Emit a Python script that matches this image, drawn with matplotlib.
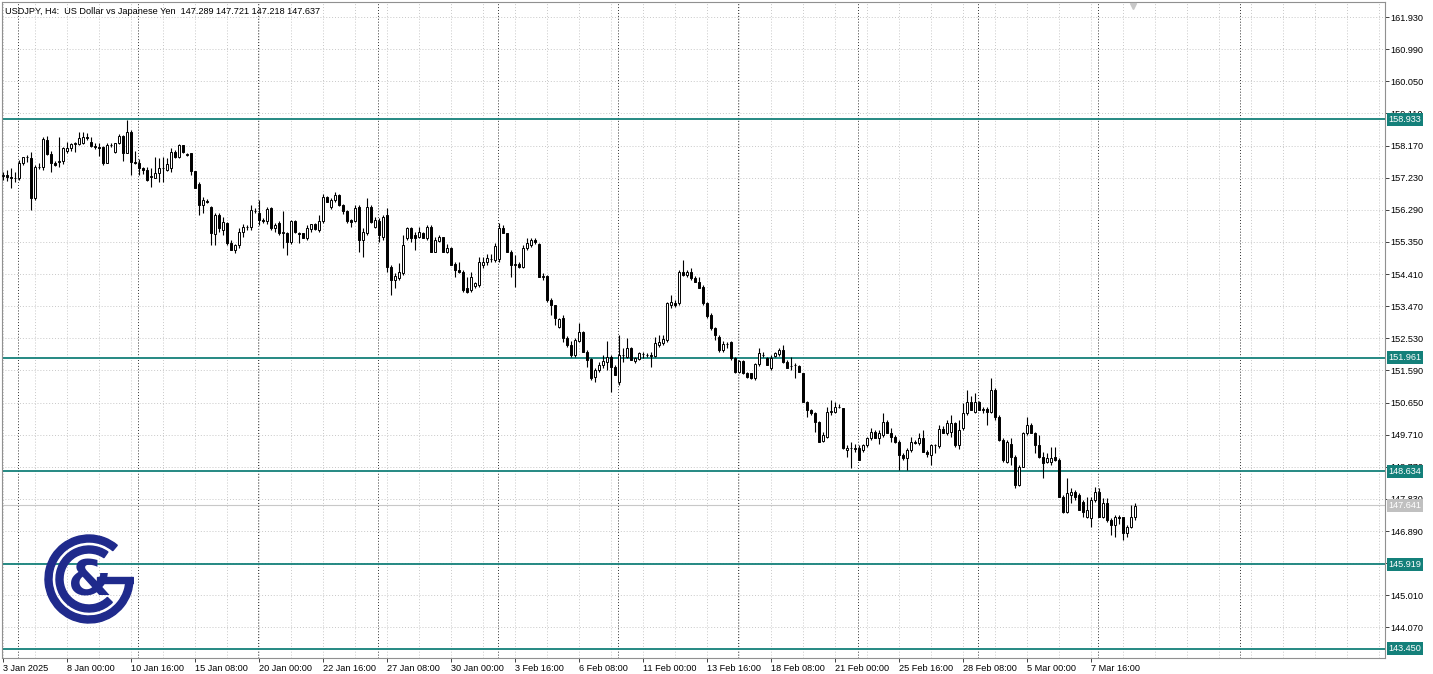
import numpy as np
import matplotlib
matplotlib.use("Agg")
import matplotlib.pyplot as plt
from matplotlib.patches import Wedge, Rectangle
import matplotlib.transforms as mtransforms

# USDJPY H4 bars (3 Jan 08:00 .. 11 Mar 12:00)
opens = [157.28, 157.30, 157.25, 157.23, 157.22, 157.65, 157.82, 157.80, 156.62, 157.55,
         157.53, 158.33, 157.92, 157.65, 157.70, 157.73, 158.02, 158.10, 158.22, 158.22,
         158.25, 158.43, 158.28, 158.15, 158.12, 158.13, 157.67, 158.18, 157.99, 158.23,
         158.45, 157.96, 158.58, 157.70, 157.67, 157.50, 157.45, 157.24, 157.23, 157.36,
         157.50, 157.45, 157.50, 157.99, 157.82, 158.19, 157.89, 157.94, 157.41, 157.05,
         156.43, 156.55, 156.38, 155.57, 156.14, 155.70, 155.90, 155.31, 155.12, 155.26,
         155.65, 155.78, 155.79, 156.26, 156.19, 156.00, 155.97, 156.33, 155.75, 155.90,
         155.60, 155.60, 155.36, 155.95, 155.60, 155.60, 155.46, 155.73, 155.86, 155.70,
         155.96, 156.67, 156.38, 156.58, 156.72, 156.43, 156.24, 155.98, 155.97, 156.38,
         155.40, 155.60, 156.38, 155.80, 155.96, 155.50, 156.14, 154.63, 154.24, 154.30,
         154.43, 155.45, 155.75, 155.55, 155.50, 155.60, 155.46, 155.80, 155.06, 155.38,
         155.48, 155.04, 155.16, 154.70, 154.53, 154.48, 153.99, 153.94, 154.07, 154.09,
         154.68, 154.77, 154.85, 154.83, 154.85, 155.75, 155.60, 155.06, 154.68, 154.70,
         154.62, 155.16, 155.26, 155.40, 155.30, 154.33, 154.35, 153.65, 153.50, 152.87,
         153.11, 152.53, 152.33, 152.04, 152.45, 152.72, 152.14, 151.92, 151.41, 151.60,
         151.75, 151.85, 151.99, 151.70, 151.26, 152.04, 151.99, 152.24, 151.87, 151.92,
         152.06, 152.04, 152.04, 152.00, 152.33, 152.38, 152.48, 153.50, 153.55, 153.55,
         154.48, 154.38, 154.46, 154.30, 154.19, 154.04, 153.55, 153.21, 152.82, 152.58,
         152.19, 152.35, 152.43, 151.94, 151.55, 151.87, 151.50, 151.50, 151.36, 151.77,
         152.04, 151.94, 151.65, 152.02, 152.06, 152.19, 151.85, 151.73, 151.75, 151.73,
         151.50, 150.68, 150.43, 150.33, 150.09, 149.53, 149.65, 150.38, 150.38, 150.53,
         150.48, 149.26, 149.31, 149.32, 149.32, 149.26, 149.41, 149.60, 149.80, 149.60,
         149.70, 150.09, 149.75, 149.65, 149.50, 149.11, 149.04, 149.26, 149.50, 149.46,
         149.60, 149.21, 149.11, 149.41, 149.38, 149.89, 149.75, 149.80, 150.04, 149.40,
         149.90, 150.33, 150.68, 150.38, 150.68, 150.43, 150.45, 150.38, 151.02, 150.24,
         149.55, 148.92, 149.45, 149.07, 148.24, 148.77, 149.75, 150.00, 149.75, 149.41,
         149.07, 148.92, 148.90, 149.05, 148.97, 147.90, 147.46, 147.95, 148.02, 147.95,
         147.75, 147.31, 147.26, 147.80, 148.04, 147.31, 147.70, 147.21, 147.07, 147.31,
         147.31, 146.83, 147.02, 147.289]
highs = [157.40, 157.45, 157.50, 157.40, 157.75, 157.84, 157.88, 157.99, 157.60, 157.65,
         158.43, 158.45, 158.00, 157.72, 158.43, 158.14, 158.28, 158.25, 158.27, 158.57,
         158.57, 158.53, 158.43, 158.23, 158.24, 158.16, 158.23, 158.23, 158.24, 158.50,
         158.47, 158.92, 158.62, 158.02, 157.77, 157.55, 157.55, 157.50, 157.84, 157.80,
         157.84, 157.80, 158.10, 158.05, 158.21, 158.19, 157.96, 157.96, 157.43, 157.10,
         156.67, 156.60, 156.40, 156.19, 156.19, 156.09, 155.92, 155.40, 155.30, 155.75,
         155.87, 155.84, 156.43, 156.33, 156.57, 156.05, 156.38, 156.38, 155.90, 155.96,
         156.24, 155.65, 156.00, 156.00, 155.65, 155.62, 155.85, 155.88, 155.90, 156.14,
         156.74, 156.70, 156.62, 156.80, 156.74, 156.45, 156.28, 156.03, 156.43, 156.43,
         155.75, 156.63, 156.43, 156.09, 156.04, 156.14, 156.33, 154.68, 154.43, 154.72,
         155.55, 155.80, 155.80, 155.65, 155.80, 155.65, 155.85, 155.85, 155.50, 155.55,
         155.50, 155.30, 155.20, 154.77, 154.77, 154.53, 154.33, 154.48, 154.19, 154.92,
         154.92, 155.01, 155.01, 155.31, 155.89, 155.85, 155.62, 155.11, 154.97, 154.77,
         155.26, 155.45, 155.45, 155.45, 155.32, 154.43, 154.38, 153.70, 153.50, 153.11,
         153.21, 152.60, 152.45, 152.53, 152.97, 152.75, 152.18, 151.95, 151.65, 151.85,
         152.04, 152.45, 152.04, 151.75, 152.63, 152.24, 152.53, 152.28, 151.99, 152.14,
         152.14, 152.09, 152.14, 152.58, 152.63, 152.63, 153.60, 153.80, 153.65, 154.53,
         154.82, 154.53, 154.58, 154.36, 154.33, 154.09, 153.58, 153.26, 152.87, 152.63,
         152.45, 152.43, 152.45, 151.99, 151.90, 151.90, 151.55, 151.52, 151.82, 152.24,
         152.14, 151.99, 152.04, 152.14, 152.24, 152.33, 151.90, 151.99, 151.80, 151.75,
         151.52, 150.70, 150.45, 150.38, 150.12, 149.80, 150.53, 150.72, 150.68, 150.60,
         150.50, 149.41, 149.50, 149.45, 149.40, 149.45, 149.65, 149.90, 149.85, 149.85,
         150.33, 150.14, 149.90, 149.70, 149.55, 149.16, 149.31, 149.65, 149.55, 149.75,
         149.85, 149.26, 149.45, 149.45, 149.99, 149.95, 150.14, 150.29, 150.09, 150.14,
         150.63, 151.02, 150.85, 150.92, 150.70, 150.53, 150.53, 151.36, 151.07, 150.29,
         149.60, 149.55, 149.60, 149.11, 148.82, 149.80, 150.24, 150.04, 149.80, 149.70,
         149.21, 149.16, 149.36, 149.36, 149.02, 147.95, 148.43, 148.14, 148.09, 148.00,
         147.80, 147.90, 147.90, 148.19, 148.14, 147.85, 147.85, 147.26, 147.36, 147.36,
         147.31, 147.07, 147.65, 147.721]
lows = [157.16, 157.12, 156.92, 157.11, 157.16, 157.60, 157.70, 156.28, 156.58, 157.48,
        157.45, 157.90, 157.40, 157.58, 157.55, 157.64, 157.95, 158.00, 157.99, 158.18,
        158.20, 158.33, 158.14, 158.06, 157.85, 157.60, 157.65, 158.13, 157.94, 158.20,
        157.72, 157.94, 157.31, 157.62, 157.31, 157.35, 157.12, 156.97, 157.21, 157.11,
        157.11, 157.41, 157.40, 157.81, 157.80, 157.94, 157.85, 157.31, 156.92, 156.14,
        156.20, 156.50, 155.26, 155.26, 155.65, 155.55, 155.25, 155.10, 155.02, 155.16,
        155.50, 155.70, 155.70, 156.20, 155.85, 155.90, 155.88, 155.70, 155.65, 155.55,
        155.16, 154.97, 155.30, 155.60, 155.31, 155.45, 155.40, 155.65, 155.70, 155.65,
        155.90, 156.52, 156.31, 156.53, 156.40, 156.18, 155.90, 155.80, 155.92, 155.06,
        154.92, 155.55, 155.90, 155.75, 155.36, 155.40, 154.48, 153.80, 153.99, 154.24,
        154.38, 155.40, 155.36, 155.12, 155.45, 155.45, 155.40, 155.05, 155.04, 155.36,
        155.05, 155.02, 154.66, 154.33, 154.43, 153.89, 153.85, 153.89, 153.99, 154.04,
        154.58, 154.68, 154.77, 154.77, 154.77, 155.60, 155.06, 154.33, 154.04, 154.58,
        154.58, 155.11, 155.20, 155.30, 154.33, 154.24, 153.60, 153.21, 152.92, 152.82,
        152.43, 152.28, 151.99, 151.99, 152.43, 152.13, 151.70, 151.31, 151.26, 151.55,
        151.65, 151.60, 150.97, 151.45, 151.16, 151.85, 151.95, 151.90, 151.80, 151.90,
        151.95, 151.97, 151.70, 151.99, 152.28, 152.33, 152.43, 153.41, 153.45, 153.50,
        154.36, 154.33, 154.24, 154.18, 153.99, 153.50, 153.12, 152.77, 152.48, 152.14,
        152.14, 152.24, 151.90, 151.50, 151.50, 151.48, 151.38, 151.35, 151.31, 151.73,
        151.99, 151.75, 151.60, 151.99, 152.02, 151.80, 151.65, 151.60, 151.36, 151.55,
        150.68, 150.24, 150.30, 149.80, 149.50, 149.50, 149.60, 150.29, 150.33, 150.48,
        149.28, 149.07, 148.73, 149.20, 148.97, 149.21, 149.36, 149.55, 149.60, 149.45,
        149.65, 149.75, 149.50, 149.48, 148.68, 148.97, 148.68, 149.21, 149.45, 149.41,
        149.21, 149.06, 148.82, 149.16, 149.33, 149.75, 149.70, 149.65, 149.36, 149.30,
        149.85, 150.29, 150.43, 150.33, 150.43, 150.33, 149.99, 150.33, 150.14, 149.53,
        148.90, 148.87, 148.82, 148.14, 148.20, 148.75, 149.70, 149.75, 149.16, 149.02,
        148.43, 148.87, 148.82, 148.95, 147.90, 147.41, 147.41, 147.70, 147.80, 147.50,
        147.31, 147.26, 147.02, 147.75, 147.31, 147.26, 147.16, 146.77, 146.73, 147.10,
        146.63, 146.73, 146.97, 147.218]
closes = [157.30, 157.25, 157.23, 157.22, 157.65, 157.82, 157.84, 156.62, 157.55, 157.53,
          158.35, 157.92, 157.65, 157.60, 157.73, 158.09, 158.10, 158.22, 158.24, 158.40,
          158.43, 158.38, 158.15, 158.13, 158.09, 157.67, 158.18, 158.19, 158.23, 158.45,
          157.96, 158.58, 157.70, 157.67, 157.50, 157.45, 157.16, 157.28, 157.36, 157.50,
          157.52, 157.62, 157.99, 157.82, 158.19, 157.99, 157.93, 157.41, 156.92, 156.43,
          156.58, 156.53, 155.60, 156.14, 155.75, 155.94, 155.31, 155.12, 155.26, 155.65,
          155.80, 155.79, 156.29, 156.25, 155.99, 155.95, 156.31, 155.75, 155.85, 155.60,
          155.63, 155.36, 155.95, 155.65, 155.57, 155.46, 155.75, 155.86, 155.72, 155.96,
          156.67, 156.53, 156.58, 156.72, 156.43, 156.24, 155.96, 155.92, 156.35, 155.40,
          155.65, 156.38, 155.94, 155.99, 155.55, 156.09, 154.63, 154.24, 154.36, 154.46,
          155.26, 155.75, 155.47, 155.45, 155.65, 155.46, 155.80, 155.06, 155.40, 155.48,
          155.06, 155.16, 154.68, 154.53, 154.48, 153.94, 153.87, 154.33, 154.14, 154.77,
          154.77, 154.87, 154.86, 155.24, 155.75, 155.60, 155.06, 154.68, 154.70, 154.62,
          155.16, 155.31, 155.40, 155.34, 154.33, 154.35, 153.65, 153.50, 153.11, 153.10,
          152.53, 152.33, 152.04, 152.48, 152.72, 152.14, 151.90, 151.36, 151.60, 151.75,
          151.86, 151.99, 151.70, 151.46, 152.04, 152.03, 152.24, 151.90, 151.95, 152.09,
          152.07, 152.05, 152.00, 152.38, 152.43, 152.51, 153.55, 153.60, 153.50, 154.48,
          154.38, 154.48, 154.28, 154.19, 154.00, 153.55, 153.17, 152.82, 152.63, 152.19,
          152.35, 152.36, 151.94, 151.55, 151.87, 151.50, 151.41, 151.38, 151.77, 152.09,
          152.05, 151.75, 151.94, 152.09, 152.19, 151.85, 151.65, 151.72, 151.76, 151.55,
          150.68, 150.43, 150.33, 150.09, 149.50, 149.70, 150.38, 150.39, 150.53, 150.52,
          149.31, 149.31, 149.32, 149.30, 148.97, 149.40, 149.60, 149.80, 149.60, 149.75,
          150.09, 149.75, 149.65, 149.50, 149.11, 149.04, 149.26, 149.50, 149.46, 149.60,
          149.21, 149.14, 149.41, 149.42, 149.89, 149.75, 150.04, 150.04, 149.40, 149.85,
          150.33, 150.68, 150.43, 150.68, 150.43, 150.45, 150.38, 151.02, 150.24, 149.55,
          148.97, 149.50, 149.07, 148.24, 148.77, 149.75, 150.00, 149.75, 149.41, 149.07,
          148.87, 149.04, 149.02, 148.97, 147.90, 147.46, 147.99, 148.02, 147.90, 147.51,
          147.46, 147.50, 147.80, 148.04, 147.31, 147.70, 147.21, 147.07, 147.31, 147.26,
          146.83, 147.02, 147.31, 147.637]

# time axis labels, one every 16 bars
date_labels = ["3 Jan 2025", "8 Jan 00:00", "10 Jan 16:00", "15 Jan 08:00", "20 Jan 00:00",
               "22 Jan 16:00", "27 Jan 08:00", "30 Jan 00:00", "3 Feb 16:00", "6 Feb 08:00",
               "11 Feb 00:00", "13 Feb 16:00", "18 Feb 08:00", "21 Feb 00:00", "25 Feb 16:00",
               "28 Feb 08:00", "5 Mar 00:00", "7 Mar 16:00"]
# price levels drawn on the chart
levels = [158.933, 151.961, 148.634, 145.919, 143.450]
last_price = 147.641
header = "USDJPY, H4:  US Dollar vs Japanese Yen  147.289 147.721 147.218 147.637"

teal = "#14807a"
navy = "#1f2a8c"
plt.rcParams['font.family'] = ['Liberation Sans', 'DejaVu Sans']

o = np.array(opens)
h = np.array(highs)
l = np.array(lows)
c = np.array(closes)
x = np.arange(len(c))

fig = plt.figure(figsize=(14.33, 6.74), dpi=100)
ax = fig.add_axes([2 / 1433, 16 / 674, 1383 / 1433, 656 / 674])
ax.set_xlim(-0.25, 345.5)
ax.set_ylim(143.176, 162.369)

# grid
yt = [144.07 + 0.94 * k for k in range(20)]
for v in yt:
    ax.axhline(v, color="#c8c8c8", lw=0.7, ls=(0, (1, 2)), zorder=0)
for v in range(0, 346, 8):
    ax.axvline(v, color="#c8c8c8", lw=0.7, ls=(0, (1, 2)), zorder=0)
# week separators (plus the one in the empty right part)
for v in list(range(4, 284, 30)) + [309.5]:
    ax.axvline(v - 0.25, color="#303030", lw=0.7, ls=(0, (1, 2)), zorder=1)

# levels
for v in levels:
    ax.axhline(v, color=teal, lw=1.3, zorder=2)
ax.axhline(last_price, color="#c8c8c8", lw=0.8, zorder=2)

# candles
ax.vlines(x, l, h, color="black", lw=0.8, zorder=3)
up = c >= o
bot = np.minimum(o, c)
hgt = np.abs(c - o)
ax.bar(x[up], hgt[up], 0.55, bottom=bot[up], color="white", edgecolor="black", lw=0.7, zorder=4)
ax.bar(x[~up], hgt[~up], 0.55, bottom=bot[~up], color="black", edgecolor="black", lw=0.7, zorder=4)

# axes look
ax.yaxis.tick_right()
ax.set_yticks(yt)
ax.set_yticklabels(["%.3f" % v for v in yt])
ax.set_xticks(range(0, 16 * len(date_labels), 16))
ax.set_xticklabels(date_labels, ha="left")
ax.tick_params(axis="both", labelsize=6.6, length=3, width=0.7, color="#404040", pad=1)
for s in ax.spines.values():
    s.set_color("#909090")
    s.set_linewidth(0.8)

# price boxes on the right axis
tr = mtransforms.blended_transform_factory(ax.transAxes, ax.transData)
for v in levels:
    ax.text(1.0025, v, "%.3f" % v, transform=tr, fontsize=6.6, color="white", va="center",
            ha="left", clip_on=False, zorder=10,
            bbox=dict(boxstyle="square,pad=0.2", fc=teal, ec="none"))
ax.text(1.0025, last_price, "%.3f" % last_price, transform=tr, fontsize=6.6, color="white",
        va="center", ha="left", clip_on=False, zorder=10,
        bbox=dict(boxstyle="square,pad=0.2", fc="#c0c0c0", ec="none"))

# header and shift marker
ax.text(0.0025, 0.993, header, transform=ax.transAxes, fontsize=6.6, va="top", ha="left", zorder=10)
ax.plot([282.5], [162.25], marker="v", ms=5, color="#c8c8c8", clip_on=False, zorder=10)

# logo
lg = fig.add_axes([44 / 1433, 50 / 674, 90 / 1433, 90 / 674])
lg.set_xlim(-45, 45)
lg.set_ylim(-45, 45)
lg.axis("off")
lg.add_patch(Wedge((0, 0), 44, 50, 360, width=7, color=navy))
lg.add_patch(Rectangle((8, -4), 36, 6.5, color=navy))
lg.add_patch(Wedge((0, 0), 33, 55, 315, width=7, color=navy))
lg.text(1, -2, "&", fontsize=36, fontweight="bold", color=navy, ha="center", va="center",
        family="DejaVu Sans")

fig.savefig("out.png", dpi=100)
